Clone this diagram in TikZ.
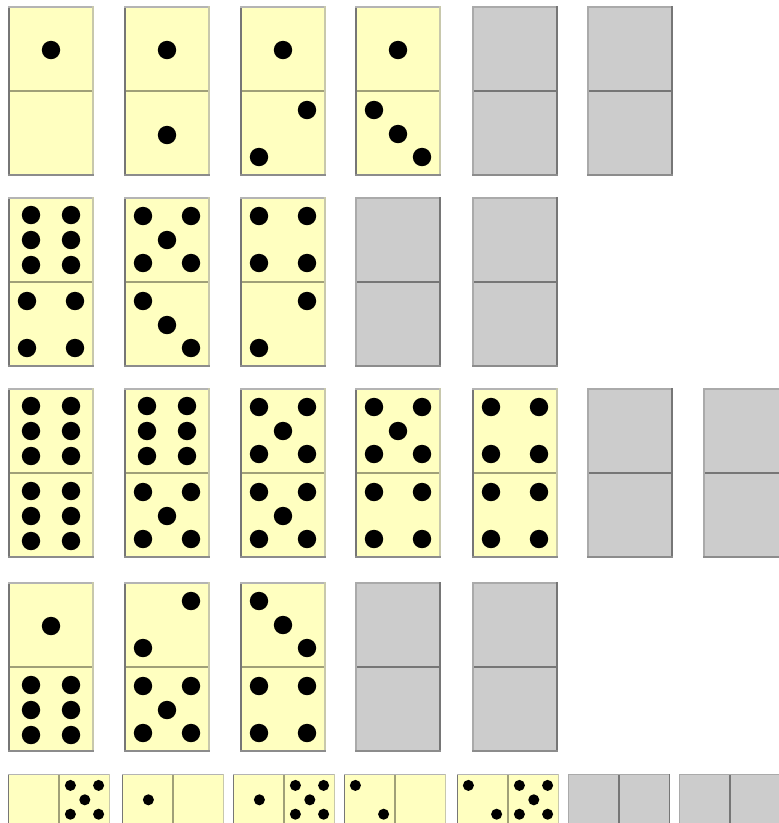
\documentclass[tikz,border=0pt]{standalone}
\usepackage{tikz}
\definecolor{dmyellow}{RGB}{255,255,192}
\definecolor{dmgrey}{RGB}{204,204,204}
\definecolor{dmdark}{RGB}{118,118,118}
\definecolor{dmmid}{RGB}{140,140,140}
\definecolor{dmlight}{RGB}{180,180,180}
\definecolor{dmcream}{RGB}{200,200,172}
\definecolor{dmseamline}{RGB}{160,160,120}
\definecolor{dmpale}{RGB}{170,170,170}
\tikzset{
  dmface/.style={fill=dmyellow},
  dmvoidface/.style={fill=dmgrey},
  dmdot/.style={fill=black},
  dmseam/.style={draw=dmseamline, line width=1.6pt},
  dmvoidseam/.style={draw=dmdark, line width=1.2pt}
}
\newcommand{\dmpip}[2]{\fill[dmdot] (#1,#2) circle[radius=9.2pt];}
\newcommand{\dmhalf}[1]{%
  \ifcase#1\relax
  \or \dmpip{43}{44}%
  \or \dmpip{67}{19}\dmpip{19}{66}%
  \or \dmpip{19}{19}\dmpip{43}{43}\dmpip{67}{66}%
  \or \dmpip{19}{19}\dmpip{67}{19}\dmpip{19}{66}\dmpip{67}{66}%
  \or \dmpip{19}{19}\dmpip{67}{19}\dmpip{43}{43}\dmpip{19}{66}\dmpip{67}{66}%
  \or \dmpip{23}{18}\dmpip{63}{18}\dmpip{23}{43}\dmpip{63}{43}\dmpip{23}{68}\dmpip{63}{68}%
  \fi}
\newcommand{\dmrim}[6]{%
  \draw[draw=#3, line width=1.6pt] (0.8,0) -- (0.8,#2);
  \draw[draw=#4, line width=1.6pt] (0,0.8) -- (#1,0.8);
  \draw[draw=#5, line width=1.8pt] (#1-0.9,0) -- (#1-0.9,#2);
  \draw[draw=#6, line width=2pt] (0,#2-1) -- (#1,#2-1);}
% upright tile: x, y, upper value, lower value
\newcommand{\dmtile}[4]{%
  \begin{scope}[shift={(#1,#2)}]
    \fill[dmface] (0,0) rectangle (86,170);
    \draw[dmseam] (0,85) -- (86,85);
    \dmrim{86}{170}{dmdark}{dmlight}{dmcream}{dmmid}
    \dmhalf{#3}
    \begin{scope}[shift={(0,85)}]\dmhalf{#4}\end{scope}
  \end{scope}}
\newcommand{\dmvoid}[2]{%
  \begin{scope}[shift={(#1,#2)}]
    \fill[dmvoidface] (0,0) rectangle (86,170);
    \draw[dmvoidseam] (0,85) -- (86,85);
    \dmrim{86}{170}{dmpale}{dmpale}{dmdark}{dmmid}
  \end{scope}}
% lying tile: x, y, left value, right value
\newcommand{\dmtileh}[4]{%
  \begin{scope}[shift={(#1,#2)}, scale=0.6]
    \fill[dmface] (0,0) rectangle (170,86);
    \draw[dmseam] (85,0) -- (85,86);
    \dmrim{170}{86}{dmdark}{dmlight}{dmcream}{dmmid}
    \begin{scope}[shift={(0,86)}, rotate=90]
      \dmhalf{#3}
      \begin{scope}[shift={(0,85)}]\dmhalf{#4}\end{scope}
    \end{scope}
  \end{scope}}
\newcommand{\dmvoidh}[2]{%
  \begin{scope}[shift={(#1,#2)}, scale=0.6]
    \fill[dmvoidface] (0,0) rectangle (170,86);
    \draw[dmvoidseam] (85,0) -- (85,86);
    \dmrim{170}{86}{dmpale}{dmpale}{dmdark}{dmmid}
  \end{scope}}

\begin{document}
\begin{tikzpicture}[x=1pt, y=-1pt]
  \useasboundingbox (0,0) rectangle (779,823);
  \clip (0,0) rectangle (779,823);
  % row 1
  \dmtile{8}{6}{1}{0}
  \dmtile{124}{6}{1}{1}
  \dmtile{240}{6}{1}{2}
  \dmtile{355}{6}{1}{3}
  \dmvoid{472}{6}
  \dmvoid{587}{6}
  % row 2
  \dmtile{8}{197}{6}{4}
  \dmtile{124}{197}{5}{3}
  \dmtile{240}{197}{4}{2}
  \dmvoid{355}{197}
  \dmvoid{472}{197}
  % row 3
  \dmtile{8}{388}{6}{6}
  \dmtile{124}{388}{6}{5}
  \dmtile{240}{388}{5}{5}
  \dmtile{355}{388}{5}{4}
  \dmtile{472}{388}{4}{4}
  \dmvoid{587}{388}
  \dmvoid{703}{388}
  % row 4
  \dmtile{8}{582}{1}{6}
  \dmtile{124}{582}{2}{5}
  \dmtile{240}{582}{3}{4}
  \dmvoid{355}{582}
  \dmvoid{472}{582}
  % row 5
  \dmtileh{8}{774}{0}{5}
  \dmtileh{122}{774}{1}{0}
  \dmtileh{233}{774}{1}{5}
  \dmtileh{344}{774}{2}{0}
  \dmtileh{457}{774}{2}{5}
  \dmvoidh{568}{774}
  \dmvoidh{679}{774}
\end{tikzpicture}
\end{document}
